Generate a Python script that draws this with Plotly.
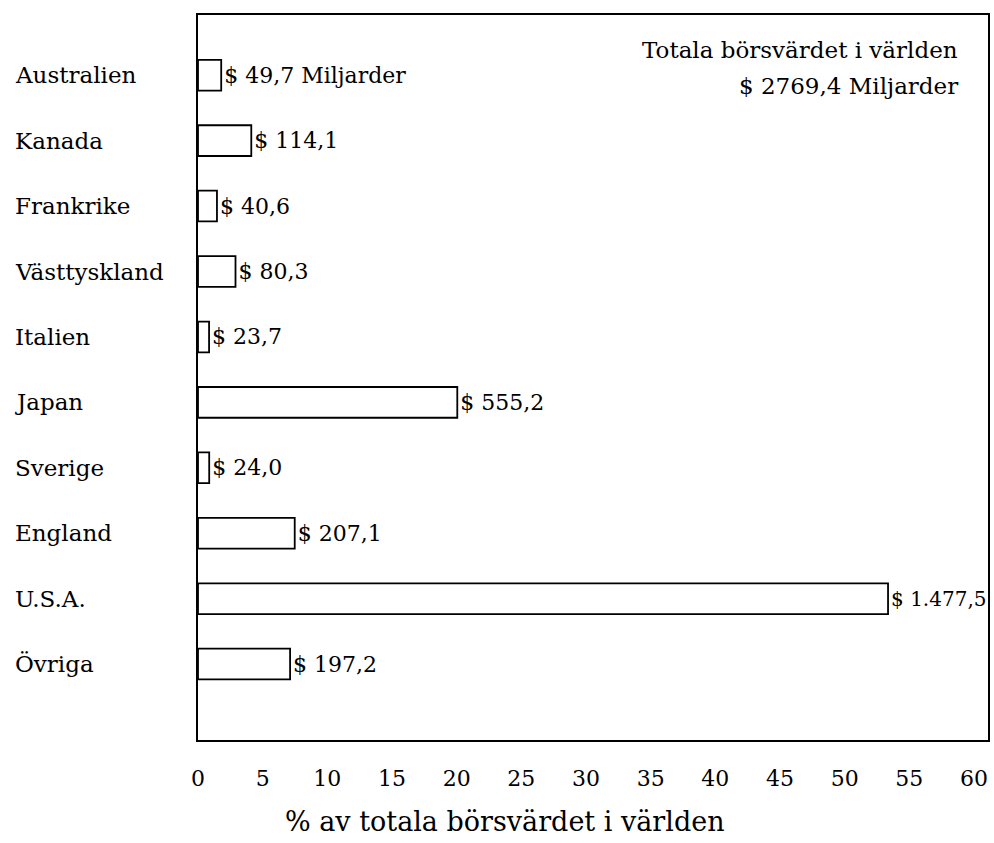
import plotly.graph_objects as go

# Börsvärde per land, miljarder dollar
countries = ["Australien", "Kanada", "Frankrike", "Västtyskland", "Italien",
             "Japan", "Sverige", "England", "U.S.A.", "Övriga"]
values = [49.7, 114.1, 40.6, 80.3, 23.7, 555.2, 24.0, 207.1, 1477.5, 197.2]
world_total = 2769.4

x_ticks = [0, 5, 10, 15, 20, 25, 30, 35, 40, 45, 50, 55, 60]

# Andel av totala börsvärdet i procent
shares = [v / world_total * 100 for v in values]


def sv_format(v):
    s = f"{v:,.1f}"
    return s.replace(",", " ").replace(".", ",").replace(" ", ".")


labels = [f"$ {sv_format(v)}" for v in values]
labels[0] += " Miljarder"
# Den längsta stapeln får en något mindre etikett så att den ryms i ramen
label_sizes = [20 if s > 50 else 22 for s in shares]

SERIF = "DejaVu Serif"
W, H = 994, 843
ml, mr, mt, mb = 198, 4, 15, 103
pw, ph = W - ml - mr, H - mt - mb

fig = go.Figure(go.Bar(
    x=shares,
    y=countries,
    orientation="h",
    width=0.47,
    marker=dict(color="white", line=dict(color="black", width=1.8)),
    text=labels,
    textposition="outside",
    constraintext="none",
    cliponaxis=False,
    textfont=dict(family=SERIF, size=label_sizes, color="black"),
    hoverinfo="skip",
))

# Landnamn vänsterjusterade i marginalen
for c in countries:
    fig.add_annotation(
        x=(13 - ml) / pw, xref="paper", xanchor="left",
        y=c, yref="y", yanchor="middle",
        text=c, showarrow=False,
        font=dict(family=SERIF, size=23, color="black"),
    )

fig.add_annotation(
    x=(962 - ml) / pw, xref="paper", xanchor="right",
    y=(ph - (50 - mt)) / ph, yref="paper", yanchor="middle",
    text="Totala börsvärdet i världen", showarrow=False,
    font=dict(family=SERIF, size=23, color="black"),
)
fig.add_annotation(
    x=(962 - ml) / pw, xref="paper", xanchor="right",
    y=(ph - (86 - mt)) / ph, yref="paper", yanchor="middle",
    text=f"$ {sv_format(world_total).replace('.', '')} Miljarder", showarrow=False,
    font=dict(family=SERIF, size=23, color="black"),
)
fig.add_annotation(
    x=(506 - ml) / pw, xref="paper", xanchor="center",
    y=-(821 - mt - ph) / ph, yref="paper", yanchor="middle",
    text="% av totala börsvärdet i världen", showarrow=False,
    font=dict(family=SERIF, size=27, color="black"),
)

px_per_unit = (976 - ml) / 60.0
x1 = pw / px_per_unit

fig.update_layout(
    width=W, height=H,
    margin=dict(l=ml, r=mr, t=mt, b=mb),
    plot_bgcolor="white", paper_bgcolor="white",
    showlegend=False,
    xaxis=dict(
        range=[0, x1],
        tickvals=x_ticks,
        ticktext=[str(t) for t in x_ticks],
        showgrid=False, zeroline=False,
        showline=True, mirror=True, linecolor="black", linewidth=1.8,
        ticks="", ticklabelstandoff=18,
        tickfont=dict(family=SERIF, size=22, color="black"),
    ),
    yaxis=dict(
        range=[10.16, -0.92],
        showticklabels=False,
        showgrid=False, zeroline=False,
        showline=True, mirror=True, linecolor="black", linewidth=1.8,
        ticks="",
    ),
)

fig.write_html("out.html")
